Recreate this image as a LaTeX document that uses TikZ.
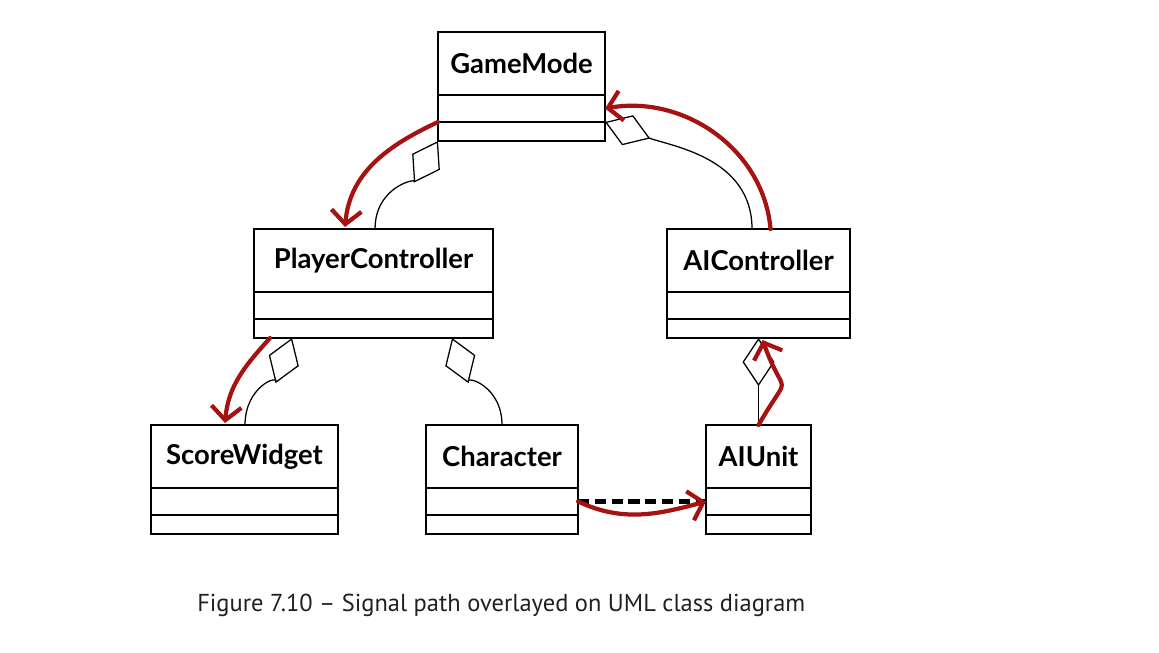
\documentclass[tikz,border=0pt]{standalone}
\usepackage{fontspec}
\usetikzlibrary{positioning,arrows.meta}
\newfontfamily\titlefont{Lato}
\newfontfamily\capfont{PT Sans}
\definecolor{sigred}{RGB}{165,18,18}
\definecolor{capgray}{RGB}{35,31,32}

\tikzset{
  classname/.style={draw, line width=1.3pt, outer sep=0pt, inner sep=0pt, anchor=north west,
    minimum height=1.575cm, font=\titlefont\bfseries\fontsize{19.5}{22}\selectfont},
  classpart/.style={draw, line width=1.3pt, outer sep=0pt, inner sep=0pt},
  aggr/.style={line width=0.9pt, -{Diamond[open, length=12mm, width=8mm]}},
  signal/.style={draw=sigred, line width=3pt, line cap=round, -{Straight Barb[length=3.4mm, width=7.5mm]}},
  dependency/.style={line width=3.4pt, dash pattern=on 2.8mm off 1.4mm},
}

% class box: name, position, width, title
\newcommand{\classbox}[4]{%
  \node[classname, minimum width=#3] (#1) at #2 {#4};
  \node[classpart, minimum width=#3, minimum height=0.675cm, below=0pt of #1] (#1-attr) {};
  \node[classpart, minimum width=#3, minimum height=0.475cm, below=0pt of #1-attr] (#1-ops) {};
}

\begin{document}
\begin{tikzpicture}[x=0.025cm, y=0.025cm]
  \useasboundingbox (0,0) rectangle (1159,652);

  \classbox{gm}{(438,620)}{4.175cm}{GameMode}
  \classbox{pc}{(254,423)}{5.975cm}{PlayerController}
  \classbox{aic}{(667,423)}{4.575cm}{AIController}
  \classbox{sw}{(151,227)}{4.675cm}{ScoreWidget}
  \classbox{ch}{(426,227)}{3.8cm}{Character}
  \classbox{au}{(706,227)}{2.625cm}{AIUnit}

  % aggregations
  \draw[aggr] ([xshift=3.025cm]pc.north west) to[out=90, in=-120] (gm-ops.south west);
  \draw[aggr] ([xshift=2.125cm]aic.north west) to[out=90, in=-20] (gm-ops.north east);
  \draw[aggr] ([xshift=2.35cm]sw.north west) to[out=90, in=-110] ([xshift=0.95cm]pc-ops.south west);
  \draw[aggr] ([xshift=1.9cm]ch.north west) to[out=90, in=-70] ([xshift=4.95cm]pc-ops.south west);
  \draw[aggr] (au.north) -- (au.north |- aic-ops.south);

  % dependency
  \draw[dependency] (ch-attr.east) -- (au-attr.west);

  % signal path
  \draw[signal] (gm-attr.south west) to[out=205, in=85] ([xshift=2.275cm, yshift=0.05cm]pc.north west);
  \draw[signal] ([xshift=0.4cm]pc-ops.south west) to[out=228, in=85] ([xshift=1.85cm, yshift=0.05cm]sw.north west);
  \draw[signal] (ch-attr.east) to[out=-25, in=195] (au-attr.west);
  \draw[signal] (au.north) to[out=60, in=-70, looseness=2] ([xshift=0.1cm, yshift=-0.05cm]aic-ops.south);
  \draw[signal] ([xshift=0.3cm]aic.north) to[out=95, in=10] (gm-attr.east);

  \node[anchor=base west, inner sep=0pt, text=capgray, font=\capfont\fontsize{17.4}{20}\selectfont] (caption)
    at (197,40) {Figure 7.10 – Signal path overlayed on UML class diagram};
\end{tikzpicture}
\end{document}
